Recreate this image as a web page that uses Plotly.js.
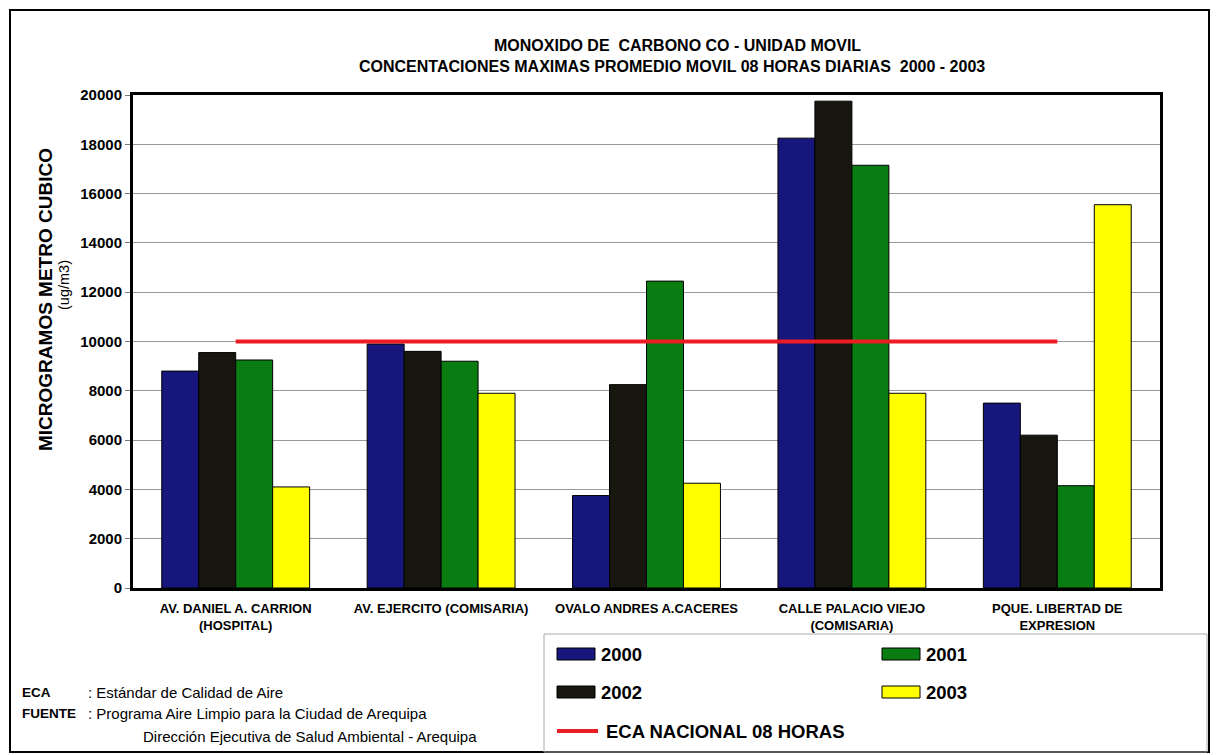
<!DOCTYPE html>
<html>
<head>
<meta charset="utf-8">
<script src="https://cdn.plot.ly/plotly-3.0.1.min.js"></script>
<style>
  html, body { margin: 0; padding: 0; background: #fff; }
  #chart { width: 1216px; height: 755px; }
</style>
</head>
<body>
<div id="chart"></div>
<script>
// ---- Data ----
const categories = [
  "AV. DANIEL A. CARRION<br>(HOSPITAL)",
  "AV. EJERCITO (COMISARIA)",
  "OVALO ANDRES A.CACERES",
  "CALLE PALACIO VIEJO<br>(COMISARIA)",
  "PQUE. LIBERTAD DE<br>EXPRESION"
];
const seriesNames = ["2000", "2002", "2001", "2003"];
const values2000 = [8800, 9900, 3750, 18250, 7500];
const values2002 = [9550, 9600, 8250, 19750, 6200];
const values2001 = [9250, 9200, 12450, 17150, 4150];
const values2003 = [4100, 7900, 4250, 7900, 15550];
const ecaName = "ECA NACIONAL 08 HORAS";
const ecaValues = [10000, 10000, 10000, 10000, 10000];
const yTickVals = [0, 2000, 4000, 6000, 8000, 10000, 12000, 14000, 16000, 18000, 20000];

const titleLine1 = "MONOXIDO DE  CARBONO CO - UNIDAD MOVIL";
const titleLine2 = "CONCENTACIONES MAXIMAS PROMEDIO MOVIL 08 HORAS DIARIAS  2000 - 2003";
const yTitle1 = "MICROGRAMOS METRO CUBICO";
const yTitle2 = "(ug/m3)";

// ---- Styling ----
const W = 1216, H = 755;
const L = 133, R = 1160, T = 95, B = 588;
const px = v => (v - L) / (R - L);
const py = v => (B - v) / (B - T);
const FONT = "Arial, 'Liberation Sans', sans-serif";
const colors = {"2000": "#17167c", "2002": "#17170f", "2001": "#0a7d12", "2003": "#ffff00"};
const ecaColor = "#ec1c24";

const seriesValues = {"2000": values2000, "2002": values2002, "2001": values2001, "2003": values2003};

const traces = seriesNames.map(n => ({
  type: "bar",
  name: n,
  x: categories,
  y: seriesValues[n],
  marker: {color: colors[n], line: {color: "#000", width: 1}},
  showlegend: false,
  hoverinfo: "x+y+name"
}));
traces.push({
  type: "scatter",
  mode: "lines",
  name: ecaName,
  x: categories,
  y: ecaValues,
  line: {color: ecaColor, width: 4},
  showlegend: false
});

const annotations = [];
const shapes = [];

// Titles
annotations.push({xref: "paper", yref: "paper", x: px(677), y: py(45), text: titleLine1,
  showarrow: false, xanchor: "center", yanchor: "middle",
  font: {family: FONT, size: 16, color: "#000", weight: "bold"}});
annotations.push({xref: "paper", yref: "paper", x: px(672), y: py(66), text: titleLine2,
  showarrow: false, xanchor: "center", yanchor: "middle",
  font: {family: FONT, size: 16, color: "#000", weight: "bold"}});

// Y axis title (two lines)
annotations.push({xref: "paper", yref: "paper", x: px(45), y: py(300), text: yTitle1,
  showarrow: false, textangle: -90, xanchor: "center", yanchor: "middle",
  font: {family: FONT, size: 19, color: "#000", weight: "bold"}});
annotations.push({xref: "paper", yref: "paper", x: px(64), y: py(285), text: yTitle2,
  showarrow: false, textangle: -90, xanchor: "center", yanchor: "middle",
  font: {family: FONT, size: 14.5, color: "#000"}});

// Outer frame
shapes.push({type: "rect", xref: "paper", yref: "paper",
  x0: px(10), x1: px(1209), y0: py(10), y1: py(752),
  line: {color: "#000", width: 2}, fillcolor: "rgba(0,0,0,0)", layer: "below"});

// Legend box
shapes.push({type: "rect", xref: "paper", yref: "paper",
  x0: px(544), x1: px(1207), y0: py(634), y1: py(752),
  line: {color: "#aaa", width: 1}, fillcolor: "rgba(0,0,0,0)"});

// Legend entries: column 1 -> 2000, 2002 ; column 2 -> 2001, 2003
const legendPos = {"2000": [557, 654], "2002": [557, 692], "2001": [882, 654], "2003": [882, 692]};
seriesNames.forEach(n => {
  const [lx, ly] = legendPos[n];
  shapes.push({type: "rect", xref: "paper", yref: "paper",
    x0: px(lx), x1: px(lx + 38), y0: py(ly - 6), y1: py(ly + 6),
    fillcolor: colors[n], line: {color: "#000", width: 1}});
  annotations.push({xref: "paper", yref: "paper", x: px(lx + 42), y: py(ly), text: n,
    showarrow: false, xanchor: "left", yanchor: "middle",
    font: {family: FONT, size: 18.5, color: "#000", weight: "bold"}});
});
shapes.push({type: "line", xref: "paper", yref: "paper",
  x0: px(557), x1: px(598), y0: py(731), y1: py(731),
  line: {color: ecaColor, width: 4}});
annotations.push({xref: "paper", yref: "paper", x: px(604), y: py(731), text: ecaName,
  showarrow: false, xanchor: "left", yanchor: "middle",
  font: {family: FONT, size: 18.5, color: "#000", weight: "bold"}});

// Notes
const noteFont = {family: FONT, size: 15, color: "#000"};
const noteBold = {family: FONT, size: 13.5, color: "#000", weight: "bold"};
const notes = [
  [20, 692, "ECA", noteBold],
  [86, 692, ": Estándar de Calidad de Aire", noteFont],
  [20, 713, "FUENTE", noteBold],
  [86, 713, ": Programa Aire Limpio para la Ciudad de Arequipa", noteFont],
  [141, 736, "Dirección Ejecutiva de Salud Ambiental - Arequipa", noteFont]
];
notes.forEach(([x, y, t, f]) => annotations.push({xref: "paper", yref: "paper", x: px(x), y: py(y),
  text: t, showarrow: false, xanchor: "left", yanchor: "middle", font: f}));

const layout = {
  width: W, height: H,
  margin: {l: L, r: W - R, t: T, b: H - B, pad: 0},
  paper_bgcolor: "#fff",
  plot_bgcolor: "#fff",
  barmode: "group",
  bargap: 0.28,
  bargroupgap: 0,
  showlegend: false,
  font: {family: FONT, color: "#000"},
  xaxis: {
    type: "category",
    showline: true, mirror: true, linecolor: "#000", linewidth: 3,
    showgrid: false, ticks: "",
    ticklabelstandoff: 6,
    tickfont: {family: FONT, size: 13, color: "#000", weight: "bold"},
    fixedrange: true
  },
  yaxis: {
    range: [0, 20000],
    tickvals: yTickVals,
    ticktext: yTickVals.map(String),
    showline: true, mirror: true, linecolor: "#000", linewidth: 3,
    showgrid: true, gridcolor: "#9a9a9a", gridwidth: 1,
    zeroline: false,
    ticks: "outside", ticklen: 5, tickcolor: "#777", tickwidth: 1,
    tickfont: {family: FONT, size: 15, color: "#000", weight: "bold"},
    fixedrange: true
  },
  annotations: annotations,
  shapes: shapes
};

Plotly.newPlot("chart", traces, layout, {displayModeBar: false, staticPlot: true});
</script>
</body>
</html>
